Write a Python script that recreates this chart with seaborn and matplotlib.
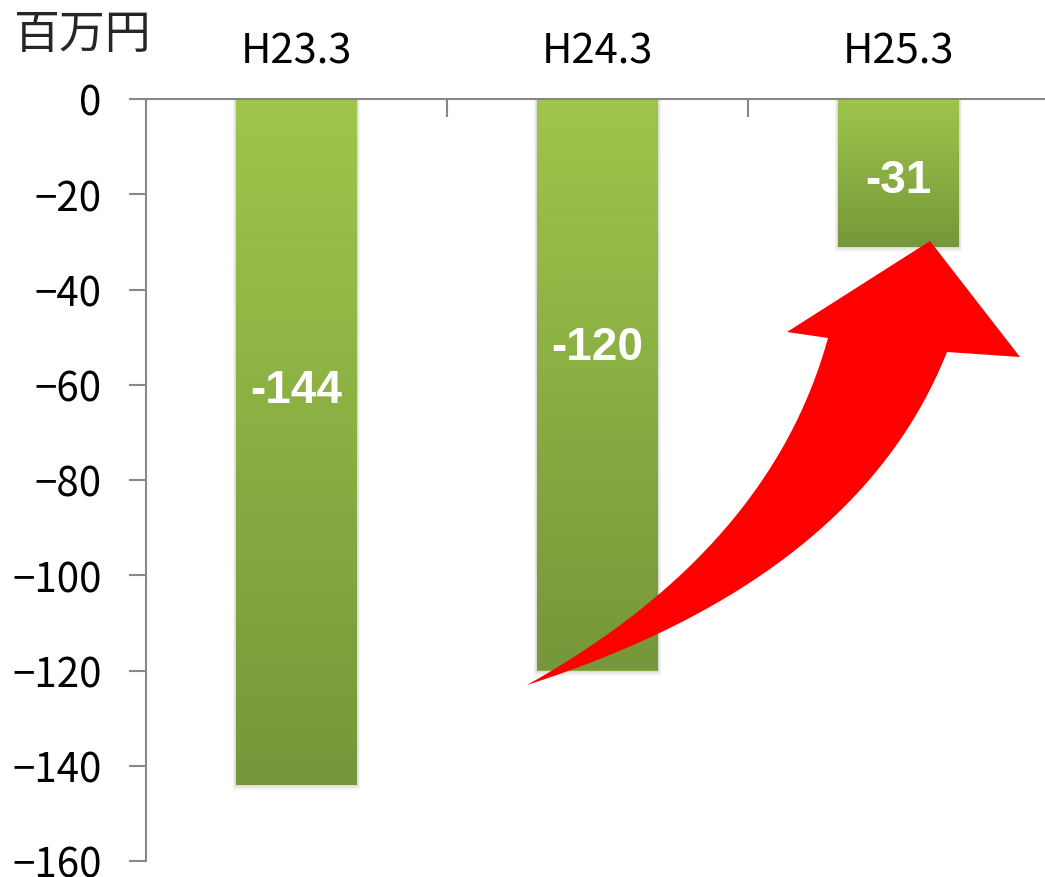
import numpy as np
import pandas as pd
import matplotlib
matplotlib.use("Agg")
import matplotlib.pyplot as plt
from matplotlib.patches import Polygon, Rectangle
from matplotlib.ticker import FixedLocator
import seaborn as sns

# data
periods = ['H23.3', 'H24.3', 'H25.3']
values = [-144, -120, -31]
label_y = [-61, -52, -17]   # where the white value labels sit
yticks = [0, -20, -40, -60, -80, -100, -120, -140, -160]

sns.set_theme(style='white')
plt.rcParams['font.family'] = ['Noto Sans CJK JP', 'DejaVu Sans']

W, H = 1045, 878
fig = plt.figure(figsize=(W / 100, H / 100), dpi=100)
ax = fig.add_axes([146 / W, 1 - 862 / H, 903 / W, (862 - 100) / H])

df = pd.DataFrame({'period': periods, 'value': values})
sns.barplot(data=df, x='period', y='value', ax=ax, width=0.4,
            color='#8aad42', saturation=1, linewidth=0)

# gradient fill + light shadow for each bar
grad = np.linspace(0, 1, 256).reshape(-1, 1)
cmap = matplotlib.colors.LinearSegmentedColormap.from_list('g', ['#9ec64b', '#76973a'])
for p in list(ax.patches):
    x0, w = p.get_x(), p.get_width()
    y0, h = p.get_y(), p.get_height()
    top, bot = max(y0, y0 + h), min(y0, y0 + h)
    for k, a in enumerate([0.06, 0.05, 0.04]):
        sh = Rectangle((x0 - 0.004 * (k + 1), bot - 0.35 * (k + 1)), w + 0.008 * (k + 1),
                       top - bot + 0.35 * (k + 1), color='black', alpha=a,
                       linewidth=0, zorder=1)
        ax.add_patch(sh)
    im = ax.imshow(grad, aspect='auto', cmap=cmap, extent=[x0, x0 + w, bot, top],
                   origin='upper', zorder=2)
    im.set_clip_path(p)
    p.set_zorder(2)
ax.set_xlim(-0.5, 2.5)
ax.set_ylim(-160, 0)

for i, (v, ly) in enumerate(zip(values, label_y)):
    ax.text(i, ly, f'{v}', ha='center', va='center', color='white',
            fontsize=33, fontweight='bold', family=['Liberation Sans'], zorder=5)

# axes styling
for s in ['right', 'bottom']:
    ax.spines[s].set_visible(False)
for s in ['left', 'top']:
    ax.spines[s].set_color('#888888')
    ax.spines[s].set_linewidth(1.5)
    ax.spines[s].set_visible(True)

ax.set_yticks(yticks)
ax.set_yticklabels([str(t).replace('-', '\u2212') for t in yticks])
ax.tick_params(axis='y', left=True, direction='out', length=12, width=1.5,
               color='#888888', labelsize=29, pad=20, labelcolor='black')
ax.xaxis.tick_top()
ax.xaxis.set_minor_locator(FixedLocator([0.5, 1.5]))
ax.tick_params(axis='x', which='major', length=0, labelsize=30, pad=20,
               labelcolor='black')
ax.tick_params(axis='x', which='minor', top=True, bottom=False, direction='in',
               length=13, width=1.5, color='#888888')
ax.set_xlabel('')
ax.set_ylabel('')

fig.text(13 / W, 1 - 35 / H, '百万円', fontsize=33, va='center', ha='left')


# red curved arrow (decoration, drawn in pixel space)
def bez(p0, c, p2, n=40):
    t = np.linspace(0, 1, n)[:, None]
    return (1 - t) ** 2 * np.array(p0) + 2 * t * (1 - t) * np.array(c) + t ** 2 * np.array(p2)


left_edge = bez((527, 686), (770, 550), (828, 339))
right_edge = bez((947, 353), (857, 580), (527, 686))
head = np.array([(787, 333), (930, 242), (1020, 358)])
pts = np.vstack([left_edge, head, right_edge])
pts[:, 0] = pts[:, 0] / W
pts[:, 1] = 1 - pts[:, 1] / H
poly = Polygon(pts, closed=True, transform=fig.transFigure,
               facecolor='#ff0000', edgecolor='none', zorder=10)
fig.patches.append(poly)

fig.savefig('out.png', dpi=100)
